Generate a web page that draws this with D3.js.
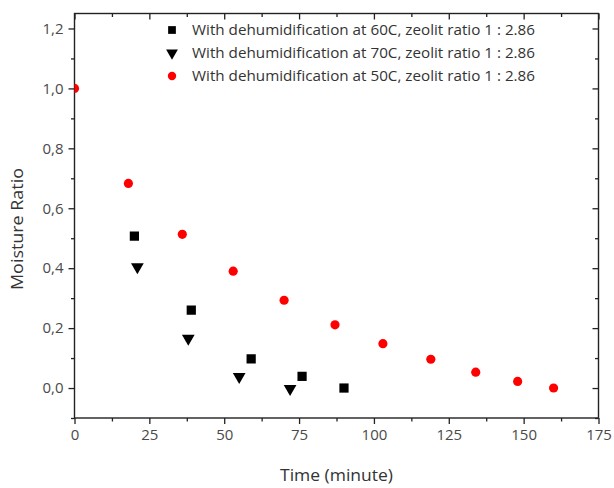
<!DOCTYPE html>
<html><head><meta charset="utf-8">
<script src="https://cdn.jsdelivr.net/npm/d3@7"></script>
<style>
html,body{margin:0;padding:0;background:#fff;}
svg{display:block;}
</style></head>
<body>
<svg id="chart" width="614" height="488"></svg>
<script>
// ---- data ----
const s60x = [20, 39, 59, 76, 90];
const s60y = [0.507, 0.26, 0.097, 0.039, 0.0];
const s70x = [21, 38, 55, 72];
const s70y = [0.404, 0.166, 0.038, -0.002];
const s50x = [0, 18, 36, 53, 70, 87, 103, 119, 134, 148, 160];
const s50y = [1.0, 0.683, 0.513, 0.39, 0.293, 0.211, 0.148, 0.096, 0.053, 0.022, 0.0];
const seriesNames = [
  "With dehumidification at 60C, zeolit ratio 1 : 2.86",
  "With dehumidification at 70C, zeolit ratio 1 : 2.86",
  "With dehumidification at 50C, zeolit ratio 1 : 2.86"
];
const xMajor = [0, 25, 50, 75, 100, 125, 150, 175];
const xMinor = [12.5, 37.5, 62.5, 87.5, 112.5, 137.5, 162.5];
const yMajor = [0.0, 0.2, 0.4, 0.6, 0.8, 1.0, 1.2];
const yMinor = [-0.1, 0.1, 0.3, 0.5, 0.7, 0.9, 1.1];
const xTitle = "Time (minute)";
const yTitle = "Moisture Ratio";

// ---- layout ----
const L = 74.5, R = 598.5, T = 13.5, B = 418;
const svg = d3.select("#chart");
const x = d3.scaleLinear().domain([0, 175]).range([L, R]);
const y = d3.scaleLinear().domain([-0.1, 1.25]).range([B, T]);
const fmt = d => d3.format(".1f")(d).replace(".", ",");
const font = "'Open Sans', 'Noto Sans', sans-serif";
const tickColor = "#4a4a4a";

svg.append("defs").append("clipPath").attr("id", "clip")
  .append("rect").attr("x", L).attr("y", T).attr("width", R - L).attr("height", B - T);

function styleAxis(g, labels) {
  g.select(".domain").remove();
  g.selectAll(".tick line").attr("stroke", "#222").attr("stroke-width", 1.3);
  g.selectAll(".tick text").attr("fill", tickColor).style("font-family", font).style("font-size", "15px");
  if (!labels) g.selectAll(".tick text").remove();
}

// bottom
svg.append("g").attr("transform", `translate(0,${B})`)
  .call(d3.axisBottom(x).tickValues(xMajor).tickSize(6).tickPadding(5).tickFormat(d3.format("d")))
  .call(g => styleAxis(g, true));
svg.append("g").attr("transform", `translate(0,${B})`)
  .call(d3.axisBottom(x).tickValues(xMinor).tickSize(3.5).tickFormat(""))
  .call(g => styleAxis(g, false));
// top (inward)
svg.append("g").attr("transform", `translate(0,${T})`)
  .call(d3.axisTop(x).tickValues(xMajor).tickSize(-6).tickFormat(""))
  .call(g => styleAxis(g, false));
svg.append("g").attr("transform", `translate(0,${T})`)
  .call(d3.axisTop(x).tickValues(xMinor).tickSize(-3.5).tickFormat(""))
  .call(g => styleAxis(g, false));
// left
svg.append("g").attr("transform", `translate(${L},0)`)
  .call(d3.axisLeft(y).tickValues(yMajor).tickSize(6).tickPadding(5).tickFormat(fmt))
  .call(g => styleAxis(g, true));
svg.append("g").attr("transform", `translate(${L},0)`)
  .call(d3.axisLeft(y).tickValues(yMinor).tickSize(3.5).tickFormat(""))
  .call(g => styleAxis(g, false));
// right (inward)
svg.append("g").attr("transform", `translate(${R},0)`)
  .call(d3.axisRight(y).tickValues(yMajor).tickSize(-6).tickFormat(""))
  .call(g => styleAxis(g, false));
svg.append("g").attr("transform", `translate(${R},0)`)
  .call(d3.axisRight(y).tickValues(yMinor).tickSize(-3.5).tickFormat(""))
  .call(g => styleAxis(g, false));

// frame
svg.append("rect").attr("x", L).attr("y", T).attr("width", R - L).attr("height", B - T)
  .attr("fill", "none").attr("stroke", "#222").attr("stroke-width", 1.4);

// ---- marks ----
const plot = svg.append("g").attr("clip-path", "url(#clip)");
const sqSym = d3.symbol().type(d3.symbolSquare).size(85);
const triSym = d3.symbol().type(d3.symbolTriangle).size(70);
const cirSym = d3.symbol().type(d3.symbolCircle).size(66);

plot.selectAll(".s60").data(d3.zip(s60x, s60y)).join("path")
  .attr("d", sqSym).attr("fill", "#000")
  .attr("transform", d => `translate(${x(d[0])},${y(d[1])})`);
plot.selectAll(".s70").data(d3.zip(s70x, s70y)).join("path")
  .attr("d", triSym).attr("fill", "#000")
  .attr("transform", d => `translate(${x(d[0])},${y(d[1])}) rotate(180)`);
plot.selectAll(".s50").data(d3.zip(s50x, s50y)).join("path")
  .attr("d", cirSym).attr("fill", "#ff0000")
  .attr("transform", d => `translate(${x(d[0])},${y(d[1])})`);

// ---- legend ----
const legY = [30, 53, 76];
const legSyms = [
  d3.symbol().type(d3.symbolSquare).size(60),
  d3.symbol().type(d3.symbolTriangle).size(60),
  d3.symbol().type(d3.symbolCircle).size(55)
];
const cols = ["#000", "#000", "#ff0000"];
const rots = [0, 180, 0];
const leg = svg.append("g");
seriesNames.forEach((name, i) => {
  leg.append("path").attr("d", legSyms[i]()).attr("fill", cols[i])
    .attr("transform", `translate(172,${legY[i]}) rotate(${rots[i]})`);
  leg.append("text").attr("x", 192).attr("y", legY[i] + 5)
    .attr("fill", "#333").style("font-family", font).style("font-size", "14px")
    .attr("textLength", 343).attr("lengthAdjust", "spacingAndGlyphs")
    .text(name);
});

// ---- titles ----
svg.append("text").attr("x", 280).attr("y", 481)
  .attr("fill", "#333").style("font-family", font).style("font-size", "16px")
  .attr("textLength", 113).attr("lengthAdjust", "spacingAndGlyphs").text(xTitle);
svg.append("text").attr("transform", "translate(23,290) rotate(-90)")
  .attr("fill", "#333").style("font-family", font).style("font-size", "16px")
  .attr("textLength", 122).attr("lengthAdjust", "spacingAndGlyphs").text(yTitle);
</script>
</body></html>
